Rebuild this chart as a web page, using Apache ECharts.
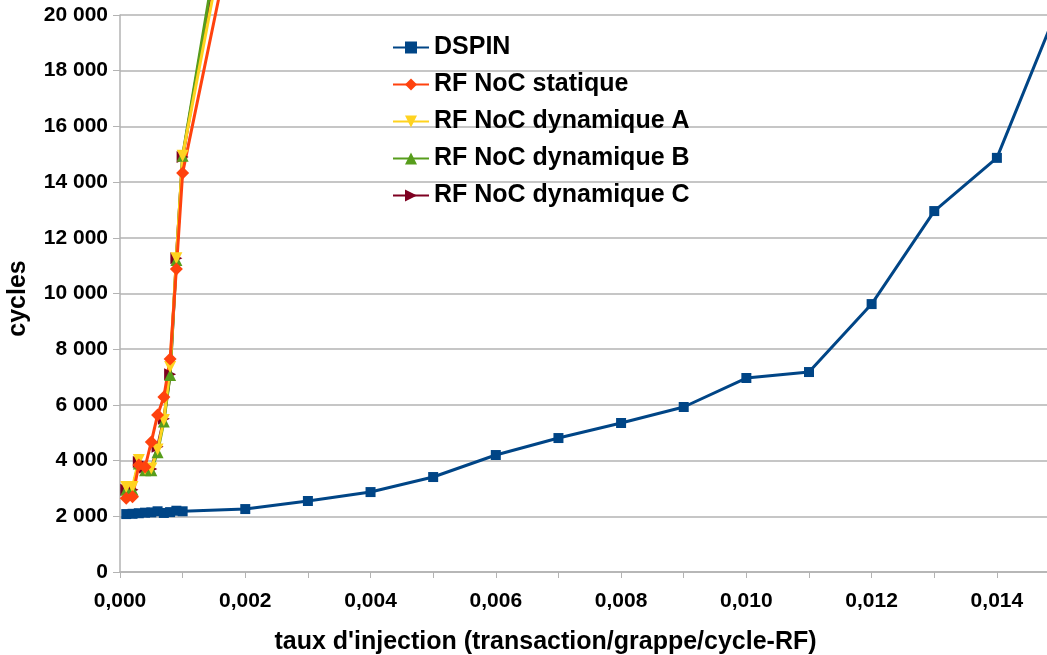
<!DOCTYPE html>
<html>
<head>
<meta charset="utf-8">
<script src="https://cdn.jsdelivr.net/npm/echarts@6/dist/echarts.min.js"></script>
<style>
  html, body { margin: 0; padding: 0; background: #fff; }
  #chart { width: 1047px; height: 655px; }
</style>
</head>
<body>
<div id="chart"></div>
<script>
// taux d'injection (x) par série
const xLow = [0.0001, 0.0002, 0.0003, 0.0004, 0.0005, 0.0006, 0.0007, 0.0008, 0.0009, 0.001];
const xDspin = xLow.concat([0.002, 0.003, 0.004, 0.005, 0.006, 0.007, 0.008, 0.009, 0.010, 0.011, 0.012, 0.013, 0.014, 0.015]);
const xRf = xLow.concat([0.002]);

// cycles
const dspin = [2080, 2090, 2110, 2130, 2140, 2180, 2120, 2150, 2200, 2180,
               2260, 2550, 2870, 3410, 4200, 4810, 5350, 5925, 6965, 7180, 9620, 12960, 14870, 20400];
const rfStatique = [2650, 2700, 3840, 3770, 4670, 5640, 6280, 7650, 10880, 14330, 25200];
const rfDynA = [3050, 3050, 4020, 3700, 3720, 4400, 5460, 7360, 11270, 14950, 26800];
const rfDynB = [2950, 2950, 3900, 3650, 3650, 4300, 5400, 7070, 11200, 14950, 28400];
const rfDynC = [2950, 2950, 3950, 3750, 3700, 4500, 5500, 7100, 11270, 14900, 28000];

const legendNames = ['DSPIN', 'RF NoC statique', 'RF NoC dynamique A', 'RF NoC dynamique B', 'RF NoC dynamique C'];

function pairs(xs, ys) {
  return ys.map((y, i) => [xs[i], y]);
}

function lineSeries(name, data, color, symbol, size, rotate) {
  return {
    name: name,
    type: 'line',
    data: data,
    clip: false,
    symbol: symbol,
    symbolSize: size,
    symbolRotate: rotate || 0,
    lineStyle: { color: color, width: 3 },
    itemStyle: { color: color },
    emphasis: { disabled: true },
    animation: false
  };
}

const chart = echarts.init(document.getElementById('chart'));

const option = {
  backgroundColor: '#ffffff',
  textStyle: { fontFamily: 'Liberation Sans, Arial, sans-serif' },
  grid: { left: 120, top: 15, right: 0, bottom: 83, containLabel: false, outerBoundsMode: 'none' },
  legend: {
    data: legendNames,
    orient: 'vertical',
    left: 387,
    top: 30,
    itemGap: 12,
    itemWidth: 36,
    itemHeight: 15,
    textStyle: { fontSize: 25, fontWeight: 'bold', color: '#000' },
    selectedMode: false
  },
  xAxis: {
    type: 'value',
    min: 0,
    max: 0.0148,
    interval: 0.001,
    name: "taux d'injection (transaction/grappe/cycle-RF)",
    nameLocation: 'middle',
    nameGap: 58,
    nameTextStyle: { fontSize: 25, fontWeight: 'bold', color: '#000', padding: [0, 76, 0, 0] },
    axisLine: { lineStyle: { color: '#b3b3b3', width: 1.5 } },
    axisTick: { show: true, length: 6, lineStyle: { color: '#b3b3b3' } },
    splitLine: { show: false },
    axisLabel: {
      margin: 19,
      fontSize: 21,
      fontWeight: 'bold',
      color: '#000',
      showMaxLabel: false,
      formatter: function (v) {
        const k = Math.round(v * 1000);
        if (k % 2 !== 0 || Math.abs(v * 1000 - k) > 1e-6) return '';
        return v.toFixed(3).replace('.', ',');
      }
    }
  },
  yAxis: {
    type: 'value',
    min: 0,
    max: 20000,
    interval: 2000,
    name: 'cycles',
    nameLocation: 'middle',
    nameGap: 89,
    nameTextStyle: { fontSize: 25, fontWeight: 'bold', color: '#000', padding: [0, 10, 0, 0] },
    axisLine: { show: true, lineStyle: { color: '#b3b3b3', width: 1.5 } },
    axisTick: { show: true, length: 7, lineStyle: { color: '#b3b3b3' } },
    splitLine: { lineStyle: { color: '#b3b3b3', width: 1.5 } },
    axisLabel: {
      margin: 12,
      fontSize: 21,
      fontWeight: 'bold',
      color: '#000',
      formatter: function (v) {
        return String(Math.round(v)).replace(/\B(?=(\d{3})+(?!\d))/g, ' ');
      }
    }
  },
  series: [
    lineSeries('RF NoC dynamique C', pairs(xRf, rfDynC), '#7e0021', 'triangle', 12, -90),
    lineSeries('RF NoC dynamique B', pairs(xRf, rfDynB), '#579d1c', 'triangle', 12, 0),
    lineSeries('RF NoC dynamique A', pairs(xRf, rfDynA), '#ffd320', 'triangle', 12, 180),
    lineSeries('RF NoC statique', pairs(xRf, rfStatique), '#ff420e', 'diamond', 13, 0),
    lineSeries('DSPIN', pairs(xDspin, dspin), '#004586', 'rect', 10, 0)
  ]
};

chart.setOption(option);
</script>
</body>
</html>
